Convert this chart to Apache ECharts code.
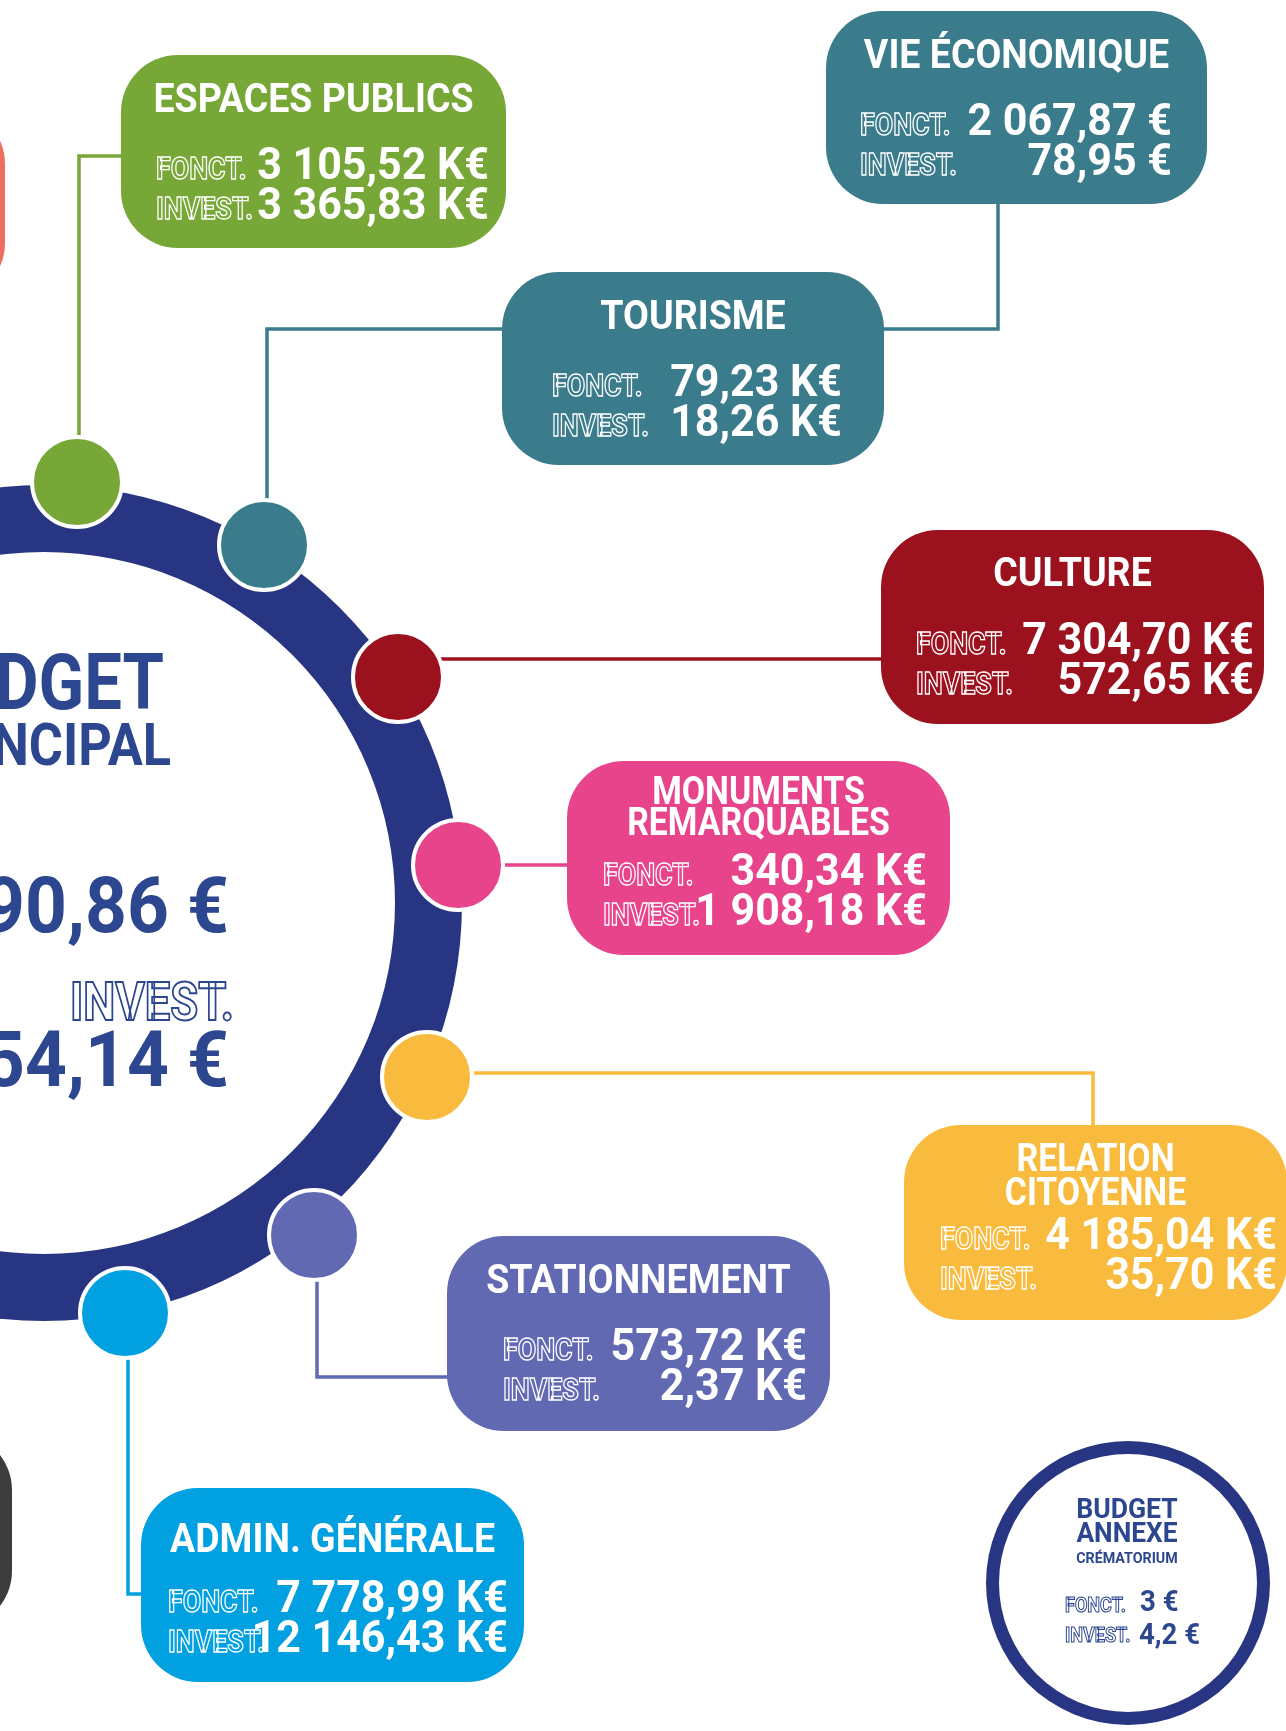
<!DOCTYPE html>
<html>
<head>
<meta charset="utf-8">
<title>Budget</title>
<script src="https://cdn.jsdelivr.net/npm/echarts@6/dist/echarts.min.js"></script>
<style>
  html, body { margin: 0; padding: 0; background: #fff; }
  #chart { width: 1286px; height: 1731px; }
</style>
</head>
<body>
<div id="chart"></div>
<script>
// ---- données ----
const categories = ['ESPACES PUBLICS', 'VIE ÉCONOMIQUE', 'TOURISME', 'CULTURE',
  'MONUMENTS\nREMARQUABLES', 'RELATION\nCITOYENNE', 'STATIONNEMENT', 'ADMIN. GÉNÉRALE']
const fonctValues = ['3 105,52 K€', '2 067,87 €', '79,23 K€', '7 304,70 K€',
  '340,34 K€', '4 185,04 K€', '573,72 K€', '7 778,99 K€']
const investValues = ['3 365,83 K€', '78,95 €', '18,26 K€', '572,65 K€',
  '1 908,18 K€', '35,70 K€', '2,37 K€', '12 146,43 K€']
const rowLabels = ['FONCT.', 'INVEST.']
const principalTitle = ['BUDGET', 'PRINCIPAL']
const principalValues = ['90,86 €', '54,14 €']
const annexeTitle = ['BUDGET', 'ANNEXE', 'CRÉMATORIUM']
const annexeValues = ['3 €', '4,2 €']

// ---- mise en page / couleurs ----
const W = 1286, H = 1731
const NAVY = '#283583', NAVY_TXT = '#2c468f'
const colors = ['#76a737', '#3a7b8c', '#3a7b8c', '#9c111e', '#e8448c', '#f9bb3d', '#6169b3', '#00a0e1']
const FONT = 'Roboto, "Noto Sans", sans-serif'

const boxes = [
  { x: 121, y: 55,   w: 385, h: 193, titleY: [97],         labelX: 156, valueX: 489 },
  { x: 826, y: 11,   w: 381, h: 193, titleY: [53],         labelX: 860, valueX: 1172 },
  { x: 502, y: 272,  w: 382, h: 193, titleY: [314],        labelX: 552, valueX: 842 },
  { x: 881, y: 530,  w: 383, h: 194, titleY: [571],        labelX: 916, valueX: 1254 },
  { x: 567, y: 761,  w: 383, h: 194, titleY: [790, 821],   labelX: 603, valueX: 927 },
  { x: 904, y: 1125, w: 383, h: 195, titleY: [1157, 1191], labelX: 940, valueX: 1277 },
  { x: 447, y: 1236, w: 383, h: 195, titleY: [1278],       labelX: 503, valueX: 807 },
  { x: 141, y: 1488, w: 383, h: 194, titleY: [1537],       labelX: 168, valueX: 508 }
]

// pastilles sur l'anneau (index de couleur)
const dots = [[77, 482, 0], [264, 545, 1], [398, 677, 3], [458, 865, 4],
  [427, 1077, 5], [314, 1235, 6], [125, 1313, 7]]

// traits de liaison
const connectors = [
  { c: 0, pts: [[79, 482], [79, 156], [124, 156]] },
  { c: 1, pts: [[267, 545], [267, 329], [504, 329]] },
  { c: 1, pts: [[882, 329], [998, 329], [998, 202]] },
  { c: 3, pts: [[420, 659], [883, 659]] },
  { c: 4, pts: [[458, 865], [569, 865]] },
  { c: 5, pts: [[427, 1073], [1093, 1073], [1093, 1127]] },
  { c: 6, pts: [[317, 1235], [317, 1377], [449, 1377]] },
  { c: 7, pts: [[128, 1313], [128, 1594], [143, 1594]] }
]

// y = centre des capitales ; petite correction car 'middle' remonte un peu le texte
function txt(text, x, y, size, opt) {
  const outline = !!opt.outline
  const align = opt.align || 'left'
  return {
    type: 'text',
    x: x, y: y + 1.5 + 0.07 * size,
    scaleX: opt.sx || 1,
    style: {
      text: text, x: 0, y: 0,
      font: `700 ${size}px ${FONT}`,
      fill: outline ? 'rgba(0,0,0,0)' : opt.color,
      stroke: outline ? opt.color : null,
      lineWidth: outline ? (opt.lw || 1.5) : 0,
      align: align, verticalAlign: 'middle',
      textAlign: align, textVerticalAlign: 'middle'
    }
  }
}

function renderDecor(params, api) {
  const c = api.coord([44, 903])
  const a = api.coord([1128, 1583])
  const sRing = api.size([418, 351])
  const kids = []
  // boîtes coupées au bord gauche
  let p = api.coord([-378, 107]), s = api.size([383, 193])
  kids.push({ type: 'rect', shape: { x: p[0], y: p[1], width: s[0], height: s[1], r: 57 }, style: { fill: '#ee6e5f' } })
  p = api.coord([-371, 1433]); s = api.size([383, 195])
  kids.push({ type: 'rect', shape: { x: p[0], y: p[1], width: s[0], height: s[1], r: 57 }, style: { fill: '#3d3c3b' } })
  // anneau principal
  kids.push({ type: 'ring', shape: { cx: c[0], cy: c[1], r: sRing[0], r0: sRing[1] }, style: { fill: NAVY } })
  // budget principal
  kids.push(txt(principalTitle[0], 164, 683, 77, { align: 'right', sx: 0.87, color: NAVY_TXT }))
  kids.push(txt(principalTitle[1], 171, 744, 60, { align: 'right', sx: 0.87, color: NAVY_TXT }))
  kids.push(txt(rowLabels[0], 2, 843, 53, { align: 'right', sx: 0.855, color: NAVY_TXT, outline: true, lw: 2 }))
  kids.push(txt(principalValues[0], 229, 906, 77, { align: 'right', sx: 0.95, color: NAVY_TXT }))
  kids.push(txt(rowLabels[1], 234, 1002, 53, { align: 'right', sx: 0.855, color: NAVY_TXT, outline: true, lw: 2 }))
  kids.push(txt(principalValues[1], 229, 1060, 77, { align: 'right', sx: 0.95, color: NAVY_TXT }))
  // budget annexe
  const sA = api.size([142, 129])
  kids.push({ type: 'ring', shape: { cx: a[0], cy: a[1], r: sA[0], r0: sA[1] }, style: { fill: NAVY } })
  kids.push(txt(annexeTitle[0], 1127, 1508, 28, { align: 'center', sx: 0.95, color: NAVY_TXT }))
  kids.push(txt(annexeTitle[1], 1127, 1532, 28, { align: 'center', sx: 0.94, color: NAVY_TXT }))
  kids.push(txt(annexeTitle[2], 1127, 1557, 15.5, { align: 'center', sx: 0.92, color: NAVY_TXT }))
  kids.push(txt(rowLabels[0], 1065, 1604, 21, { sx: 0.86, color: NAVY_TXT, outline: true, lw: 1.1 }))
  kids.push(txt(annexeValues[0], 1140, 1600, 29, { sx: 0.95, color: NAVY_TXT }))
  kids.push(txt(rowLabels[1], 1065, 1634, 21, { sx: 0.86, color: NAVY_TXT, outline: true, lw: 1.1 }))
  kids.push(txt(annexeValues[1], 1139, 1633, 29, { sx: 0.95, color: NAVY_TXT }))
  return { type: 'group', children: kids }
}

function renderConnector(params, api) {
  const conn = connectors[params.dataIndex]
  return {
    type: 'polyline',
    shape: { points: conn.pts.map(pt => api.coord(pt)) },
    style: { stroke: colors[conn.c], lineWidth: 3.5, fill: null }
  }
}

function renderBox(params, api) {
  const i = params.dataIndex
  const b = boxes[i]
  const p = api.coord([b.x, b.y])
  const s = api.size([b.w, b.h])
  const kids = [{
    type: 'rect',
    shape: { x: p[0], y: p[1], width: s[0], height: s[1], r: 57 },
    style: { fill: colors[i] }
  }]
  const cx = b.x + b.w / 2
  const lines = categories[i].split('\n')
  const tSize = lines.length > 1 ? 38 : 41
  const tSx = lines.length > 1 ? 0.89 : 0.915
  lines.forEach((t, k) => {
    kids.push(txt(t, cx, b.titleY[k], tSize, { align: 'center', sx: tSx, color: '#fff' }))
  })
  const bases = [b.y + 124, b.y + 164]
  const vals = [fonctValues[i], investValues[i]]
  bases.forEach((base, k) => {
    kids.push(txt(rowLabels[k], b.labelX, base - 0.355 * 31, 31, { sx: 0.865, color: '#fff', outline: true, lw: 1.4 }))
    kids.push(txt(vals[k], b.valueX, base - 0.355 * 45, 45, { align: 'right', sx: 0.955, color: '#fff' }))
  })
  return { type: 'group', children: kids }
}

const chart = echarts.init(document.getElementById('chart'))
chart.setOption({
  animation: false,
  backgroundColor: '#fff',
  grid: { left: 0, right: 0, top: 0, bottom: 0 },
  xAxis: { type: 'value', min: 0, max: W, show: false },
  yAxis: { type: 'value', min: 0, max: H, inverse: true, show: false },
  series: [
    { type: 'custom', name: 'decor', data: [[0, 0]], renderItem: renderDecor, z: 1, silent: true },
    { type: 'custom', name: 'liens', data: connectors.map((c, i) => [i, 0]), renderItem: renderConnector, z: 2, silent: true },
    {
      type: 'scatter', name: 'pastilles', z: 3, silent: true,
      symbolSize: 90,
      data: dots.map(d => ({ value: [d[0], d[1]], itemStyle: { color: colors[d[2]] } })),
      itemStyle: { borderColor: '#fff', borderWidth: 4, opacity: 1 }
    },
    { type: 'custom', name: 'postes', data: categories.map((c, i) => [i, 0]), renderItem: renderBox, z: 4, silent: true }
  ]
})
</script>
</body>
</html>
